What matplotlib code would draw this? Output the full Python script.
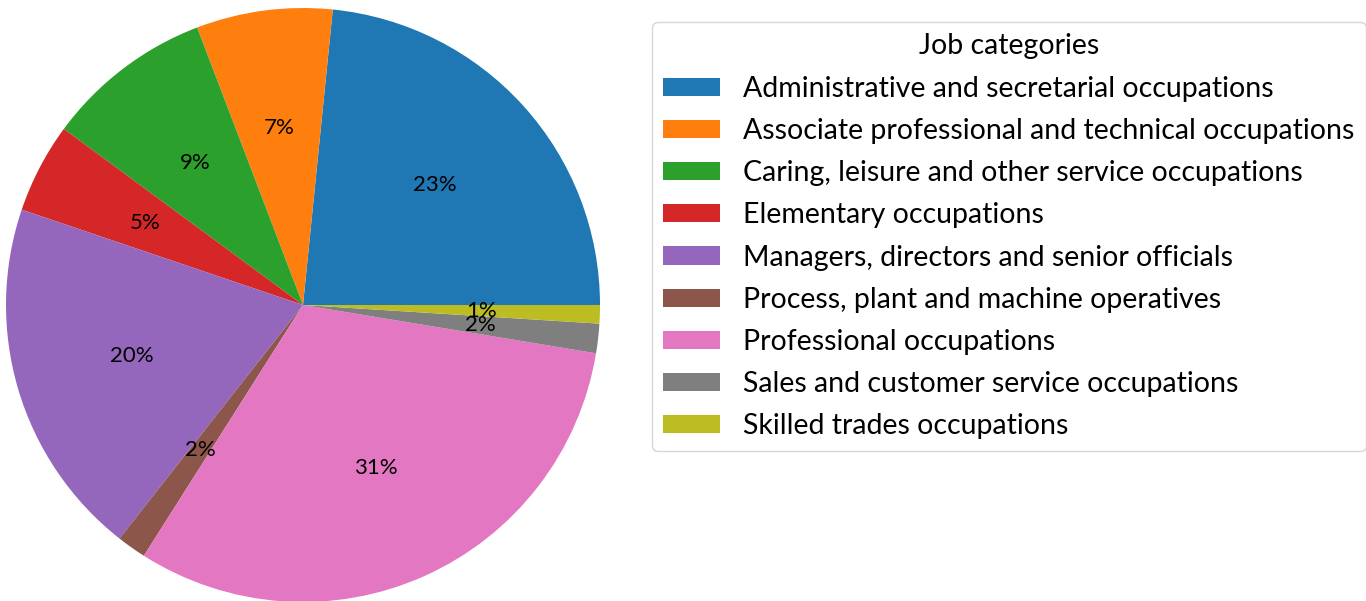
import matplotlib.pyplot as plt

plt.rcParams['font.family'] = ['Lato', 'DejaVu Sans']

# share of jobs per category (percent)
categories = [
    'Administrative and secretarial occupations',
    'Associate professional and technical occupations',
    'Caring, leisure and other service occupations',
    'Elementary occupations',
    'Managers, directors and senior officials',
    'Process, plant and machine operatives',
    'Professional occupations',
    'Sales and customer service occupations',
    'Skilled trades occupations',
]
shares = [23.4, 7.4, 9.1, 4.9, 19.6, 1.6, 31.4, 1.6, 1.0]

W, H = 1366, 601
fig = plt.figure(figsize=(W / 100, H / 100), dpi=100)
ax = fig.add_axes([6 / W, -1 / H, 594 / W, 594 / H])

wedges, texts, autotexts = ax.pie(shares, autopct='%1.0f%%', startangle=0,
                                  textprops={'fontsize': 16, 'color': 'black'})
ax.set_xlim(-1, 1)
ax.set_ylim(-1, 1)
ax.set_aspect('equal')

leg = ax.legend(wedges, categories, title='Job categories',
                loc='upper left', bbox_to_anchor=(652 / W, 1 - 22 / H),
                bbox_transform=fig.transFigure, borderaxespad=0,
                fontsize=20.5, title_fontsize=20.5, handlelength=2.0,
                labelspacing=0.57, handleheight=0.6)

fig.savefig('out.png', dpi=100)
